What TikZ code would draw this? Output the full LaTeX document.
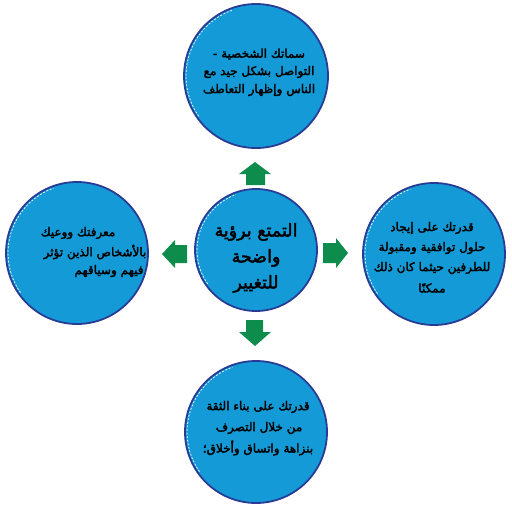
\documentclass[tikz,border=0pt]{standalone}
\usepackage{fontspec}
\newfontfamily\arabicfont[Script=Arabic,FakeBold=2.5]{DejaVu Sans}
\TeXXeTstate=1
\definecolor{cfill}{RGB}{20,155,215}
\definecolor{cedge}{RGB}{40,60,150}
\definecolor{agreen}{RGB}{14,140,76}
\newcommand{\AR}[1]{\beginR #1\endR}
\begin{document}
\begin{tikzpicture}[x=1pt,y=-1pt,
  bubble/.style={circle, fill=cfill, draw=cedge, line width=1.8pt, inner sep=0pt},
  btext/.style={font=\arabicfont\fontsize{12}{14}\selectfont, inner sep=0pt, text=black},
  ctext/.style={font=\arabicfont\fontsize{17.5}{20}\selectfont, inner sep=0pt, text=black},
  arrowfill/.style={fill=agreen},
  rough/.style={white, line width=0.7pt, dash pattern=on 2pt off 1.6pt}]
\useasboundingbox (0,0) rectangle (512,512);
% circles
\node[bubble, minimum size=144pt] (top) at (256,76) {};
\node[bubble, minimum size=142pt] (left) at (77,253) {};
\node[bubble, minimum size=142pt] (right) at (434,254) {};
\node[bubble, minimum size=142pt] (bottom) at (256,432) {};
\node[bubble, minimum size=122pt] (center) at (256,250) {};
% rough white speckles on the edges
\foreach \n/\r in {top/70,left/69,right/69,bottom/69,center/59}{
  \draw[rough] (\n) ++(145:\r) arc[start angle=145, end angle=250, radius=\r];
}
% top texts
\node[btext] (t1) at (259,54) {\AR{سماتك الشخصية -}};
\node[btext] (t2) at (259,72) {\AR{التواصل بشكل جيد مع}};
\node[btext] (t3) at (259,90) {\AR{الناس وإظهار التعاطف}};
% left texts
\node[btext] (l1) at (78,233) {\AR{معرفتك ووعيك}};
\node[btext] (l2) at (95,252) {\AR{بالأشخاص الذين تؤثر}};
\node[btext] (l3) at (109,271) {\AR{فيهم وسياقهم}};
% right texts
\node[btext] (r1) at (432,228) {\AR{قدرتك على إيجاد}};
\node[btext] (r2) at (432,248) {\AR{حلول توافقية ومقبولة}};
\node[btext] (r3) at (432,268) {\AR{للطرفين حيثما كان ذلك}};
\node[btext] (r4) at (432,288) {\AR{ممكنًا}};
% bottom texts
\node[btext] (b1) at (258,407) {\AR{قدرتك على بناء الثقة}};
\node[btext] (b2) at (259,428) {\AR{من خلال التصرف}};
\node[btext] (b3) at (258,448) {\AR{بنزاهة واتساق وأخلاق؛}};
% center texts
\node[ctext] (c1) at (256,232) {\AR{التمتع برؤية}};
\node[ctext] (c2) at (256,258) {\AR{واضحة}};
\node[ctext] (c3) at (256,284) {\AR{للتغيير}};
% arrows
\fill[arrowfill] (255,162) -- (271,174) -- (265,174) -- (265,185) -- (246,185) -- (246,174) -- (239,174) -- cycle;
\fill[arrowfill] (255,346) -- (271,332) -- (263,332) -- (263,320) -- (246,320) -- (246,332) -- (239,332) -- cycle;
\fill[arrowfill] (348,253) -- (336,238) -- (336,243) -- (323,243) -- (323,263) -- (336,263) -- (336,268) -- cycle;
\fill[arrowfill] (162,254) -- (175,240) -- (175,245) -- (187,245) -- (187,263) -- (175,263) -- (175,268) -- cycle;
\end{tikzpicture}
\end{document}
